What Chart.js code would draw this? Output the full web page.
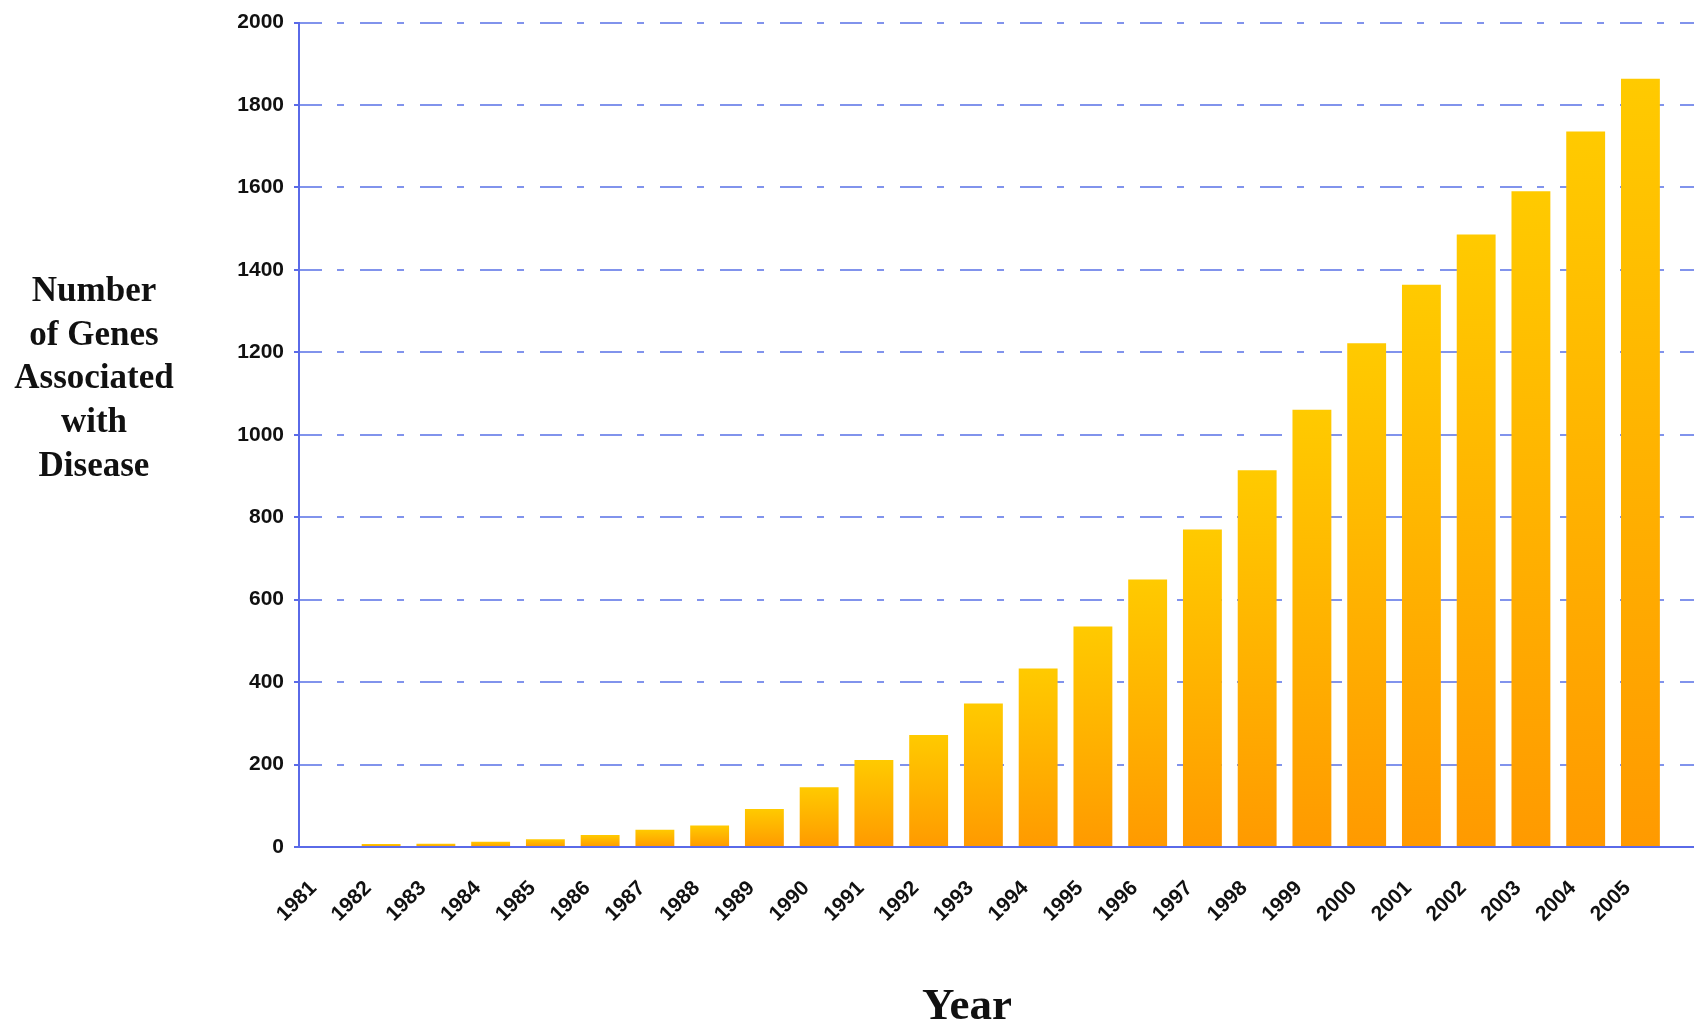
<!DOCTYPE html>
<html>
<head>
<meta charset="utf-8">
<title>Number of Genes Associated with Disease</title>
<script src="https://cdn.jsdelivr.net/npm/chart.js@4/dist/chart.umd.min.js"></script>
<style>
  html, body { margin: 0; padding: 0; background: #fff; overflow: hidden; }
  #wrap { position: relative; width: 1734px; height: 1027px; }
  #chart { position: absolute; left: 0; top: 0; }
  #ytitle {
    position: absolute; left: -6px; top: 268px; width: 200px;
    text-align: center; color: #111;
    font: bold 35px/43.7px "Liberation Serif", "Times New Roman", serif;
  }
  #xtitle {
    position: absolute; left: 867px; top: 982px; width: 200px;
    text-align: center; color: #111;
    font: bold 45px/45px "Liberation Serif", "Times New Roman", serif;
  }
</style>
</head>
<body>
<div id="wrap">
  <canvas id="chart" width="1734" height="1027"></canvas>
  <div id="ytitle">Number<br>of Genes<br>Associated<br>with<br>Disease</div>
  <div id="xtitle">Year</div>
</div>
<script>
// Years on the category axis
const years = ['1981', '1982', '1983', '1984', '1985', '1986', '1987', '1988', '1989',
               '1990', '1991', '1992', '1993', '1994', '1995', '1996', '1997', '1998',
               '1999', '2000', '2001', '2002', '2003', '2004', '2005'];

// Cumulative number of genes associated with disease, per year
const geneCounts = [0, 7, 8, 13, 19, 29, 42, 52, 92, 145, 211, 272, 348, 433, 535,
                    649, 770, 914, 1061, 1222, 1364, 1486, 1591, 1736, 1864];

// Value axis range and step
const yMin = 0;
const yMax = 2000;
const yStep = 200;

// Colours
const BAR_TOP = '#ffca00';
const BAR_BOTTOM = '#ff9a00';
const GRID_COLOR = '#8193ec';
const AXIS_COLOR = '#5a6ae8';
const TEXT_COLOR = '#111111';

const tickFont = { family: '"Liberation Sans", Arial, Helvetica, sans-serif', weight: 'bold', size: 21 };

// Each bar fades from yellow at its top to orange at the baseline
function barGradient(context) {
  const chart = context.chart;
  const area = chart.chartArea;
  if (!area || context.type !== 'data') return BAR_BOTTOM;
  const yScale = chart.scales.y;
  const v = context.parsed ? context.parsed.y : context.raw;
  const top = yScale.getPixelForValue(v);
  const base = yScale.getPixelForValue(0);
  if (!isFinite(top) || !isFinite(base) || Math.abs(base - top) < 1) return BAR_BOTTOM;
  const g = chart.ctx.createLinearGradient(0, top, 0, base);
  g.addColorStop(0, BAR_TOP);
  g.addColorStop(1, BAR_BOTTOM);
  return g;
}

// One spare empty slot after the last year keeps the axis running on to the right
const categoryLabels = years.concat(['']);

new Chart(document.getElementById('chart'), {
  type: 'bar',
  data: {
    labels: categoryLabels,
    datasets: [{
      data: geneCounts,
      backgroundColor: barGradient,
      borderWidth: 0,
      barPercentage: 0.71,
      categoryPercentage: 1.0
    }]
  },
  options: {
    responsive: false,
    maintainAspectRatio: false,
    devicePixelRatio: 1,
    animation: false,
    events: [],
    layout: {
      autoPadding: false,
      padding: { top: 11, left: 0, right: 0, bottom: 0 }
    },
    plugins: {
      legend: { display: false },
      tooltip: { enabled: false },
      title: { display: false }
    },
    scales: {
      x: {
        type: 'category',
        offset: true,
        grid: { display: false },
        border: { display: true, color: AXIS_COLOR, width: 2 },
        ticks: {
          autoSkip: false,
          minRotation: 45,
          maxRotation: 45,
          padding: 21,
          labelOffset: -13,
          color: TEXT_COLOR,
          font: tickFont
        },
        afterFit: (scale) => { scale.height = 180; }
      },
      y: {
        min: yMin,
        max: yMax,
        grid: {
          color: (ctx) => (ctx.tick && ctx.tick.value === 0 ? 'rgba(0,0,0,0)' : GRID_COLOR),
          lineWidth: 2,
          drawTicks: true,
          tickLength: 5,
          tickColor: AXIS_COLOR,
          tickWidth: 2
        },
        border: { display: true, color: AXIS_COLOR, width: 2, dash: [22, 15, 7, 16] },
        ticks: {
          stepSize: yStep,
          padding: 10,
          color: TEXT_COLOR,
          font: tickFont,
          callback: (value) => String(value)
        },
        afterFit: (scale) => { scale.width = 299; }
      }
    }
  }
});
</script>
</body>
</html>
